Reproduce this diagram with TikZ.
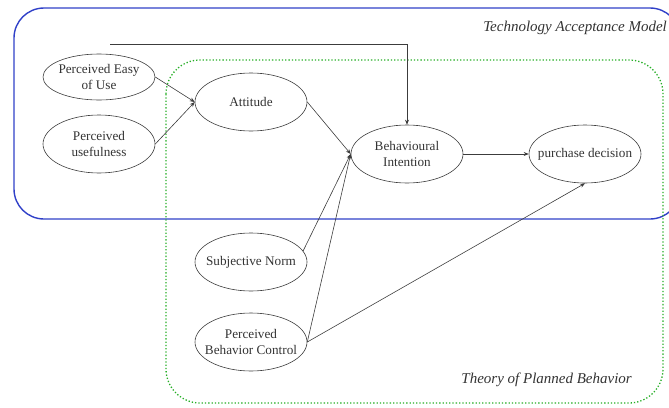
\documentclass[tikz,border=0pt]{standalone}
\usepackage{fontspec}
\setmainfont{Liberation Serif}
\usetikzlibrary{arrows.meta,shapes.geometric}
\definecolor{tamblue}{RGB}{48,64,200}
\definecolor{tpbgreen}{RGB}{40,175,40}
\definecolor{linegray}{RGB}{60,60,60}
\tikzset{
  construct/.style={ellipse, draw=linegray, line width=0.6pt, minimum width=112pt,
    minimum height=58pt, inner xsep=-8pt, inner ysep=0pt, align=center, text=black!80,
    font=\fontsize{13.2}{16}\selectfont},
  link/.style={draw=linegray, line width=0.6pt, -{Stealth[length=5pt,width=4pt]}},
  modellabel/.style={font=\fontsize{15}{18}\selectfont\itshape, text=black!80, inner sep=0pt}
}
\begin{document}
\begin{tikzpicture}[x=1pt,y=-1pt]
  \useasboundingbox (0,0) rectangle (669,407);
  % model frames
  \draw[tamblue, line width=1.4pt, rounded corners=30pt] (14,8) rectangle (680,219);
  \draw[tpbgreen, line width=1.3pt, dotted, rounded corners=34pt] (166,60) rectangle (663,403);
  \node[modellabel, anchor=east] (tamlabel) at (667,28) {Technology Acceptance Model};
  \node[modellabel, anchor=east] (tpblabel) at (632,380) {Theory of Planned Behavior};
  % constructs
  \node[construct, minimum height=46pt] (peou) at (99,77) {Perceived Easy\\of Use};
  \node[construct] (pu) at (99,144) {Perceived\\usefulness};
  \node[construct] (att) at (251,102) {Attitude};
  \node[construct] (bi) at (407,154) {Behavioural\\Intention};
  \node[construct] (pd) at (585,154) {purchase decision};
  \node[construct] (sn) at (251,262) {Subjective Norm};
  \node[construct] (pbc) at (251,342) {Perceived\\Behavior Control};
  % relations
  \coordinate (tamstart) at (110,44);
  \draw[link] (tamstart) -| (bi.north);
  \draw[link] (peou.east) -- (att.west);
  \draw[link] (pu.east) -- (att.west);
  \draw[link] (att.east) -- (bi.west);
  \draw[link] (sn.12) -- (bi.west);
  \draw[link] (pbc.east) -- (bi.west);
  \draw[link] (pbc.east) -- (pd.south);
  \draw[link] (bi.east) -- (pd.west);
\end{tikzpicture}
\end{document}
